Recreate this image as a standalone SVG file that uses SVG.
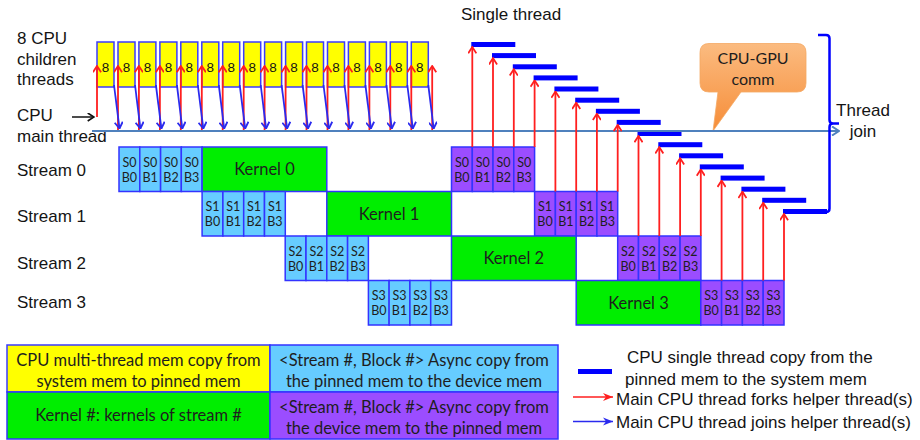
<svg xmlns="http://www.w3.org/2000/svg" width="920" height="440" viewBox="0 0 920 440">
<defs>
<linearGradient id="og" x1="0" y1="0" x2="0" y2="1"><stop offset="0" stop-color="#fbbb80"/><stop offset="1" stop-color="#f68d38"/></linearGradient>
<marker id="hr" viewBox="0 0 10 10" refX="9" refY="5" markerWidth="9" markerHeight="9" markerUnits="userSpaceOnUse" orient="auto"><path d="M2,0.5 L9,5 L2,9.5" fill="none" stroke="#ff1f1f" stroke-width="2"/></marker>
<marker id="hb" viewBox="0 0 10 10" refX="9" refY="5" markerWidth="9" markerHeight="9" markerUnits="userSpaceOnUse" orient="auto"><path d="M2,0.5 L9,5 L2,9.5" fill="none" stroke="#2a2aee" stroke-width="2"/></marker>
<marker id="hm" viewBox="0 0 10 10" refX="9" refY="5" markerWidth="10" markerHeight="10" markerUnits="userSpaceOnUse" orient="auto"><path d="M2,0.5 L9,5 L2,9.5" fill="none" stroke="#4f81bd" stroke-width="2"/></marker>
<marker id="hk" viewBox="0 0 10 10" refX="9" refY="5" markerWidth="9" markerHeight="9" markerUnits="userSpaceOnUse" orient="auto"><path d="M2,0.5 L9,5 L2,9.5" fill="none" stroke="#111" stroke-width="1.8"/></marker>
<marker id="lr" viewBox="0 0 10 10" refX="10" refY="5" markerWidth="10" markerHeight="10" markerUnits="userSpaceOnUse" orient="auto"><path d="M0,1 L10,5 L0,9 L3,5 Z" fill="#ff1f1f"/></marker>
<marker id="lb" viewBox="0 0 10 10" refX="10" refY="5" markerWidth="10" markerHeight="10" markerUnits="userSpaceOnUse" orient="auto"><path d="M0,1 L10,5 L0,9 L3,5 Z" fill="#2a2aee"/></marker>
</defs>
<style>
.lbl{font-family:"Liberation Sans",Arial,sans-serif;font-size:17px;fill:#141414}
.cal{font-family:Lato,"Open Sans",sans-serif;fill:#1e1e1e}
.c{font-size:12.5px;text-anchor:middle}
.k{font-size:16.5px;text-anchor:middle}
.lg{font-size:16.5px;text-anchor:middle}
.e{font-family:"Liberation Sans",Arial,sans-serif;font-size:13.5px;fill:#141414;text-anchor:middle}
.y{fill:#ffff00;stroke:#3b3bff;stroke-width:1.5}
.b{fill:#66ccff;stroke:#3333ff;stroke-width:1.5}
.p{fill:#9b4dff;stroke:#3333ff;stroke-width:1.5}
.g{fill:#00ee00;stroke:#3333ff;stroke-width:1.5}
.fork{stroke:#ff1f1f;stroke-width:1.8;fill:none;marker-end:url(#hr)}
.join{stroke:#2a2aee;stroke-width:1.8;fill:none;marker-end:url(#hb)}
.bar{fill:#0000ff}
</style>
<rect width="920" height="440" fill="#fff"/>

<g id="labels">
<text class="lbl" x="17" y="44">8 CPU</text>
<text class="lbl" x="17" y="65">children</text>
<text class="lbl" x="17" y="85">threads</text>
<text class="lbl" x="17" y="121">CPU</text>
<text class="lbl" x="17" y="142">main thread</text>
<text class="lbl" x="17" y="176">Stream 0</text>
<text class="lbl" x="17" y="222">Stream 1</text>
<text class="lbl" x="17" y="269">Stream 2</text>
<text class="lbl" x="17" y="308">Stream 3</text>
<text class="lbl" x="461" y="20">Single thread</text>
<text class="lbl" x="863" y="116" text-anchor="middle">Thread</text>
<text class="lbl" x="863" y="137" text-anchor="middle">join</text>
</g>

<g id="child-threads">
<g id="ct0"><rect class="y" x="97" y="42" width="17" height="45"/><text class="e" x="105.5" y="71.5">8</text></g>
<g id="ct1"><rect class="y" x="118" y="42" width="17" height="45"/><text class="e" x="126.5" y="71.5">8</text></g>
<g id="ct2"><rect class="y" x="138.9" y="42" width="17" height="45"/><text class="e" x="147.4" y="71.5">8</text></g>
<g id="ct3"><rect class="y" x="159.9" y="42" width="17" height="45"/><text class="e" x="168.4" y="71.5">8</text></g>
<g id="ct4"><rect class="y" x="180.8" y="42" width="17" height="45"/><text class="e" x="189.3" y="71.5">8</text></g>
<g id="ct5"><rect class="y" x="201.8" y="42" width="17" height="45"/><text class="e" x="210.3" y="71.5">8</text></g>
<g id="ct6"><rect class="y" x="222.7" y="42" width="17" height="45"/><text class="e" x="231.2" y="71.5">8</text></g>
<g id="ct7"><rect class="y" x="243.7" y="42" width="17" height="45"/><text class="e" x="252.2" y="71.5">8</text></g>
<g id="ct8"><rect class="y" x="264.6" y="42" width="17" height="45"/><text class="e" x="273.1" y="71.5">8</text></g>
<g id="ct9"><rect class="y" x="285.6" y="42" width="17" height="45"/><text class="e" x="294.1" y="71.5">8</text></g>
<g id="ct10"><rect class="y" x="306.5" y="42" width="17" height="45"/><text class="e" x="315" y="71.5">8</text></g>
<g id="ct11"><rect class="y" x="327.5" y="42" width="17" height="45"/><text class="e" x="336" y="71.5">8</text></g>
<g id="ct12"><rect class="y" x="348.4" y="42" width="17" height="45"/><text class="e" x="356.9" y="71.5">8</text></g>
<g id="ct13"><rect class="y" x="369.4" y="42" width="17" height="45"/><text class="e" x="377.9" y="71.5">8</text></g>
<g id="ct14"><rect class="y" x="390.3" y="42" width="17" height="45"/><text class="e" x="398.8" y="71.5">8</text></g>
<g id="ct15"><rect class="y" x="411.3" y="42" width="17" height="45"/><text class="e" x="419.8" y="71.5">8</text></g>
</g>

<g id="stream0">
<g id="s0b0-h2d"><rect class="b" x="119" y="147" width="20.8" height="44.5"/><text class="cal c" x="129.4" y="166.5">S0</text><text class="cal c" x="129.4" y="181.7">B0</text></g>
<g id="s0b1-h2d"><rect class="b" x="139.8" y="147" width="20.8" height="44.5"/><text class="cal c" x="150.2" y="166.5">S0</text><text class="cal c" x="150.2" y="181.7">B1</text></g>
<g id="s0b2-h2d"><rect class="b" x="160.6" y="147" width="20.8" height="44.5"/><text class="cal c" x="171" y="166.5">S0</text><text class="cal c" x="171" y="181.7">B2</text></g>
<g id="s0b3-h2d"><rect class="b" x="181.3" y="147" width="20.8" height="44.5"/><text class="cal c" x="191.7" y="166.5">S0</text><text class="cal c" x="191.7" y="181.7">B3</text></g>
<g id="kernel0"><rect class="g" x="202.1" y="147" width="124.7" height="44.5"/><text class="cal k" x="264.5" y="175.3">Kernel 0</text></g>
<g id="s0b0-d2h"><rect class="p" x="451.5" y="147" width="20.8" height="44.5"/><text class="cal c" x="461.9" y="166.5">S0</text><text class="cal c" x="461.9" y="181.7">B0</text></g>
<g id="s0b1-d2h"><rect class="p" x="472.3" y="147" width="20.8" height="44.5"/><text class="cal c" x="482.7" y="166.5">S0</text><text class="cal c" x="482.7" y="181.7">B1</text></g>
<g id="s0b2-d2h"><rect class="p" x="493" y="147" width="20.8" height="44.5"/><text class="cal c" x="503.4" y="166.5">S0</text><text class="cal c" x="503.4" y="181.7">B2</text></g>
<g id="s0b3-d2h"><rect class="p" x="513.8" y="147" width="20.8" height="44.5"/><text class="cal c" x="524.2" y="166.5">S0</text><text class="cal c" x="524.2" y="181.7">B3</text></g>
</g>

<g id="stream1">
<g id="s1b0-h2d"><rect class="b" x="202.1" y="191.5" width="20.8" height="44.5"/><text class="cal c" x="212.5" y="211">S1</text><text class="cal c" x="212.5" y="226.2">B0</text></g>
<g id="s1b1-h2d"><rect class="b" x="222.9" y="191.5" width="20.8" height="44.5"/><text class="cal c" x="233.3" y="211">S1</text><text class="cal c" x="233.3" y="226.2">B1</text></g>
<g id="s1b2-h2d"><rect class="b" x="243.7" y="191.5" width="20.8" height="44.5"/><text class="cal c" x="254.1" y="211">S1</text><text class="cal c" x="254.1" y="226.2">B2</text></g>
<g id="s1b3-h2d"><rect class="b" x="264.5" y="191.5" width="20.8" height="44.5"/><text class="cal c" x="274.9" y="211">S1</text><text class="cal c" x="274.9" y="226.2">B3</text></g>
<g id="kernel1"><rect class="g" x="326.8" y="191.5" width="124.7" height="44.5"/><text class="cal k" x="389.1" y="219.8">Kernel 1</text></g>
<g id="s1b0-d2h"><rect class="p" x="534.6" y="191.5" width="20.8" height="44.5"/><text class="cal c" x="545" y="211">S1</text><text class="cal c" x="545" y="226.2">B0</text></g>
<g id="s1b1-d2h"><rect class="p" x="555.4" y="191.5" width="20.8" height="44.5"/><text class="cal c" x="565.8" y="211">S1</text><text class="cal c" x="565.8" y="226.2">B1</text></g>
<g id="s1b2-d2h"><rect class="p" x="576.2" y="191.5" width="20.8" height="44.5"/><text class="cal c" x="586.6" y="211">S1</text><text class="cal c" x="586.6" y="226.2">B2</text></g>
<g id="s1b3-d2h"><rect class="p" x="596.9" y="191.5" width="20.8" height="44.5"/><text class="cal c" x="607.3" y="211">S1</text><text class="cal c" x="607.3" y="226.2">B3</text></g>
</g>

<g id="stream2">
<g id="s2b0-h2d"><rect class="b" x="285.2" y="236" width="20.8" height="44.5"/><text class="cal c" x="295.6" y="255.5">S2</text><text class="cal c" x="295.6" y="270.7">B0</text></g>
<g id="s2b1-h2d"><rect class="b" x="306" y="236" width="20.8" height="44.5"/><text class="cal c" x="316.4" y="255.5">S2</text><text class="cal c" x="316.4" y="270.7">B1</text></g>
<g id="s2b2-h2d"><rect class="b" x="326.8" y="236" width="20.8" height="44.5"/><text class="cal c" x="337.2" y="255.5">S2</text><text class="cal c" x="337.2" y="270.7">B2</text></g>
<g id="s2b3-h2d"><rect class="b" x="347.6" y="236" width="20.8" height="44.5"/><text class="cal c" x="358" y="255.5">S2</text><text class="cal c" x="358" y="270.7">B3</text></g>
<g id="kernel2"><rect class="g" x="451.5" y="236" width="124.7" height="44.5"/><text class="cal k" x="513.8" y="264.3">Kernel 2</text></g>
<g id="s2b0-d2h"><rect class="p" x="617.7" y="236" width="20.8" height="44.5"/><text class="cal c" x="628.1" y="255.5">S2</text><text class="cal c" x="628.1" y="270.7">B0</text></g>
<g id="s2b1-d2h"><rect class="p" x="638.5" y="236" width="20.8" height="44.5"/><text class="cal c" x="648.9" y="255.5">S2</text><text class="cal c" x="648.9" y="270.7">B1</text></g>
<g id="s2b2-d2h"><rect class="p" x="659.3" y="236" width="20.8" height="44.5"/><text class="cal c" x="669.7" y="255.5">S2</text><text class="cal c" x="669.7" y="270.7">B2</text></g>
<g id="s2b3-d2h"><rect class="p" x="680.1" y="236" width="20.8" height="44.5"/><text class="cal c" x="690.5" y="255.5">S2</text><text class="cal c" x="690.5" y="270.7">B3</text></g>
</g>

<g id="stream3">
<g id="s3b0-h2d"><rect class="b" x="368.4" y="280.5" width="20.8" height="44.5"/><text class="cal c" x="378.8" y="300">S3</text><text class="cal c" x="378.8" y="315.2">B0</text></g>
<g id="s3b1-h2d"><rect class="b" x="389.1" y="280.5" width="20.8" height="44.5"/><text class="cal c" x="399.5" y="300">S3</text><text class="cal c" x="399.5" y="315.2">B1</text></g>
<g id="s3b2-h2d"><rect class="b" x="409.9" y="280.5" width="20.8" height="44.5"/><text class="cal c" x="420.3" y="300">S3</text><text class="cal c" x="420.3" y="315.2">B2</text></g>
<g id="s3b3-h2d"><rect class="b" x="430.7" y="280.5" width="20.8" height="44.5"/><text class="cal c" x="441.1" y="300">S3</text><text class="cal c" x="441.1" y="315.2">B3</text></g>
<g id="kernel3"><rect class="g" x="576.2" y="280.5" width="124.7" height="44.5"/><text class="cal k" x="638.5" y="308.8">Kernel 3</text></g>
<g id="s3b0-d2h"><rect class="p" x="700.8" y="280.5" width="20.8" height="44.5"/><text class="cal c" x="711.2" y="300">S3</text><text class="cal c" x="711.2" y="315.2">B0</text></g>
<g id="s3b1-d2h"><rect class="p" x="721.6" y="280.5" width="20.8" height="44.5"/><text class="cal c" x="732" y="300">S3</text><text class="cal c" x="732" y="315.2">B1</text></g>
<g id="s3b2-d2h"><rect class="p" x="742.4" y="280.5" width="20.8" height="44.5"/><text class="cal c" x="752.8" y="300">S3</text><text class="cal c" x="752.8" y="315.2">B2</text></g>
<g id="s3b3-d2h"><rect class="p" x="763.2" y="280.5" width="20.8" height="44.5"/><text class="cal c" x="773.6" y="300">S3</text><text class="cal c" x="773.6" y="315.2">B3</text></g>
</g>

<g id="single-thread-copies">
<rect class="bar" x="471.3" y="42" width="44" height="5"/>
<rect class="bar" x="492" y="53.1" width="44" height="5"/>
<rect class="bar" x="512.8" y="64.3" width="44" height="5"/>
<rect class="bar" x="533.6" y="75.4" width="44" height="5"/>
<rect class="bar" x="554.4" y="86.5" width="44" height="5"/>
<rect class="bar" x="575.2" y="97.7" width="44" height="5"/>
<rect class="bar" x="595.9" y="108.8" width="44" height="5"/>
<rect class="bar" x="616.7" y="119.9" width="44" height="5"/>
<rect class="bar" x="637.5" y="131" width="44" height="5"/>
<rect class="bar" x="658.3" y="142.2" width="44" height="5"/>
<rect class="bar" x="679.1" y="153.3" width="44" height="5"/>
<rect class="bar" x="699.8" y="164.4" width="44" height="5"/>
<rect class="bar" x="720.6" y="175.6" width="44" height="5"/>
<rect class="bar" x="741.4" y="186.7" width="44" height="5"/>
<rect class="bar" x="762.2" y="197.8" width="44" height="5"/>
<rect class="bar" x="783" y="209" width="44" height="5"/>
</g>

<g id="callout">
<path d="M709,43.5 H797 Q806,43.5 806,52.5 V83 Q806,92 797,92 H741 L713,131 L718,92 H709 Q700,92 700,83 V52.5 Q700,43.5 709,43.5 Z" fill="url(#og)" stroke="#f4a863" stroke-width="0.8"/>
<text class="cal" x="753" y="64" font-size="16" text-anchor="middle">CPU-GPU</text>
<text class="cal" x="753" y="85" font-size="16" text-anchor="middle">comm</text>
</g>

<g id="connectors">
<line x1="92" y1="131" x2="839" y2="131" stroke="#4f81bd" stroke-width="2" marker-end="url(#hm)"/>
<line x1="72" y1="117" x2="94" y2="117" stroke="#111" stroke-width="1.5" marker-end="url(#hk)"/>
<path d="M818,35 H826 Q829.5,35 829.5,38.5 V120 Q829.5,123.5 833,123.5 H839 M833,123.5 Q829.5,123.5 829.5,127 V208.5 Q829.5,212 826,212 H818" fill="none" stroke="#0000ff" stroke-width="2.5"/>
<line class="fork" x1="97" y1="117" x2="97" y2="66"/>
<line class="fork" x1="118" y1="130" x2="118" y2="66"/>
<line class="fork" x1="138.9" y1="130" x2="138.9" y2="66"/>
<line class="fork" x1="159.9" y1="130" x2="159.9" y2="66"/>
<line class="fork" x1="180.8" y1="130" x2="180.8" y2="66"/>
<line class="fork" x1="201.8" y1="130" x2="201.8" y2="66"/>
<line class="fork" x1="222.7" y1="130" x2="222.7" y2="66"/>
<line class="fork" x1="243.7" y1="130" x2="243.7" y2="66"/>
<line class="fork" x1="264.6" y1="130" x2="264.6" y2="66"/>
<line class="fork" x1="285.6" y1="130" x2="285.6" y2="66"/>
<line class="fork" x1="306.5" y1="130" x2="306.5" y2="66"/>
<line class="fork" x1="327.5" y1="130" x2="327.5" y2="66"/>
<line class="fork" x1="348.4" y1="130" x2="348.4" y2="66"/>
<line class="fork" x1="369.4" y1="130" x2="369.4" y2="66"/>
<line class="fork" x1="390.3" y1="130" x2="390.3" y2="66"/>
<line class="fork" x1="411.3" y1="130" x2="411.3" y2="66"/>
<line class="fork" x1="432.2" y1="130" x2="432.2" y2="66"/>
<line class="join" x1="114" y1="85" x2="119.5" y2="128.5"/>
<line class="join" x1="135" y1="85" x2="140.4" y2="128.5"/>
<line class="join" x1="155.9" y1="85" x2="161.4" y2="128.5"/>
<line class="join" x1="176.9" y1="85" x2="182.3" y2="128.5"/>
<line class="join" x1="197.8" y1="85" x2="203.3" y2="128.5"/>
<line class="join" x1="218.8" y1="85" x2="224.2" y2="128.5"/>
<line class="join" x1="239.7" y1="85" x2="245.2" y2="128.5"/>
<line class="join" x1="260.7" y1="85" x2="266.1" y2="128.5"/>
<line class="join" x1="281.6" y1="85" x2="287.1" y2="128.5"/>
<line class="join" x1="302.6" y1="85" x2="308" y2="128.5"/>
<line class="join" x1="323.5" y1="85" x2="329" y2="128.5"/>
<line class="join" x1="344.5" y1="85" x2="349.9" y2="128.5"/>
<line class="join" x1="365.4" y1="85" x2="370.9" y2="128.5"/>
<line class="join" x1="386.4" y1="85" x2="391.8" y2="128.5"/>
<line class="join" x1="407.3" y1="85" x2="412.8" y2="128.5"/>
<line class="join" x1="428.3" y1="85" x2="433.7" y2="128.5"/>
<line class="fork" x1="472.3" y1="147" x2="472.3" y2="47"/>
<line class="fork" x1="493" y1="147" x2="493" y2="58.1"/>
<line class="fork" x1="513.8" y1="147" x2="513.8" y2="69.3"/>
<line class="fork" x1="534.6" y1="147" x2="534.6" y2="80.4"/>
<line class="fork" x1="555.4" y1="191.5" x2="555.4" y2="91.5"/>
<line class="fork" x1="576.2" y1="191.5" x2="576.2" y2="102.7"/>
<line class="fork" x1="596.9" y1="191.5" x2="596.9" y2="113.8"/>
<line class="fork" x1="617.7" y1="191.5" x2="617.7" y2="124.9"/>
<line class="fork" x1="638.5" y1="236" x2="638.5" y2="136"/>
<line class="fork" x1="659.3" y1="236" x2="659.3" y2="147.2"/>
<line class="fork" x1="680.1" y1="236" x2="680.1" y2="158.3"/>
<line class="fork" x1="700.8" y1="236" x2="700.8" y2="169.4"/>
<line class="fork" x1="721.6" y1="280.5" x2="721.6" y2="180.6"/>
<line class="fork" x1="742.4" y1="280.5" x2="742.4" y2="191.7"/>
<line class="fork" x1="763.2" y1="280.5" x2="763.2" y2="202.8"/>
<line class="fork" x1="784" y1="280.5" x2="784" y2="214"/>
</g>

<g id="legend-table">
<g id="legend-cpu-multi"><rect class="y" x="7" y="345" width="263" height="47"/><text class="cal lg" x="138.5" y="366">CPU multi-thread mem copy from</text><text class="cal lg" x="138.5" y="387">system mem to pinned mem</text></g>
<g id="legend-h2d"><rect class="b" x="270" y="345" width="288" height="47"/><text class="cal lg" x="414" y="366">&lt;Stream #, Block #&gt; Async copy from</text><text class="cal lg" x="414" y="387">the pinned mem to the device mem</text></g>
<g id="legend-kernel"><rect class="g" x="7" y="392" width="263" height="47"/><text class="cal lg" x="138.5" y="421">Kernel #: kernels of stream #</text></g>
<g id="legend-d2h"><rect class="p" x="270" y="392" width="288" height="47"/><text class="cal lg" x="414" y="413">&lt;Stream #, Block #&gt; Async copy from</text><text class="cal lg" x="414" y="434">the device mem to the pinned mem</text></g>
</g>

<g id="legend-keys">
<rect class="bar" x="578" y="369" width="34" height="5"/>
<text class="lbl" x="627" y="363">CPU single thread copy from the</text>
<text class="lbl" x="625" y="385">pinned mem to the system mem</text>
<line x1="573" y1="397" x2="613" y2="397" stroke="#ff1f1f" stroke-width="1.5" marker-end="url(#lr)"/>
<text class="lbl" x="616" y="405">Main CPU thread forks helper thread(s)</text>
<line x1="573" y1="421.5" x2="613" y2="421.5" stroke="#2a2aee" stroke-width="1.5" marker-end="url(#lb)"/>
<text class="lbl" x="616" y="428">Main CPU thread joins helper thread(s)</text>
</g>
</svg>
